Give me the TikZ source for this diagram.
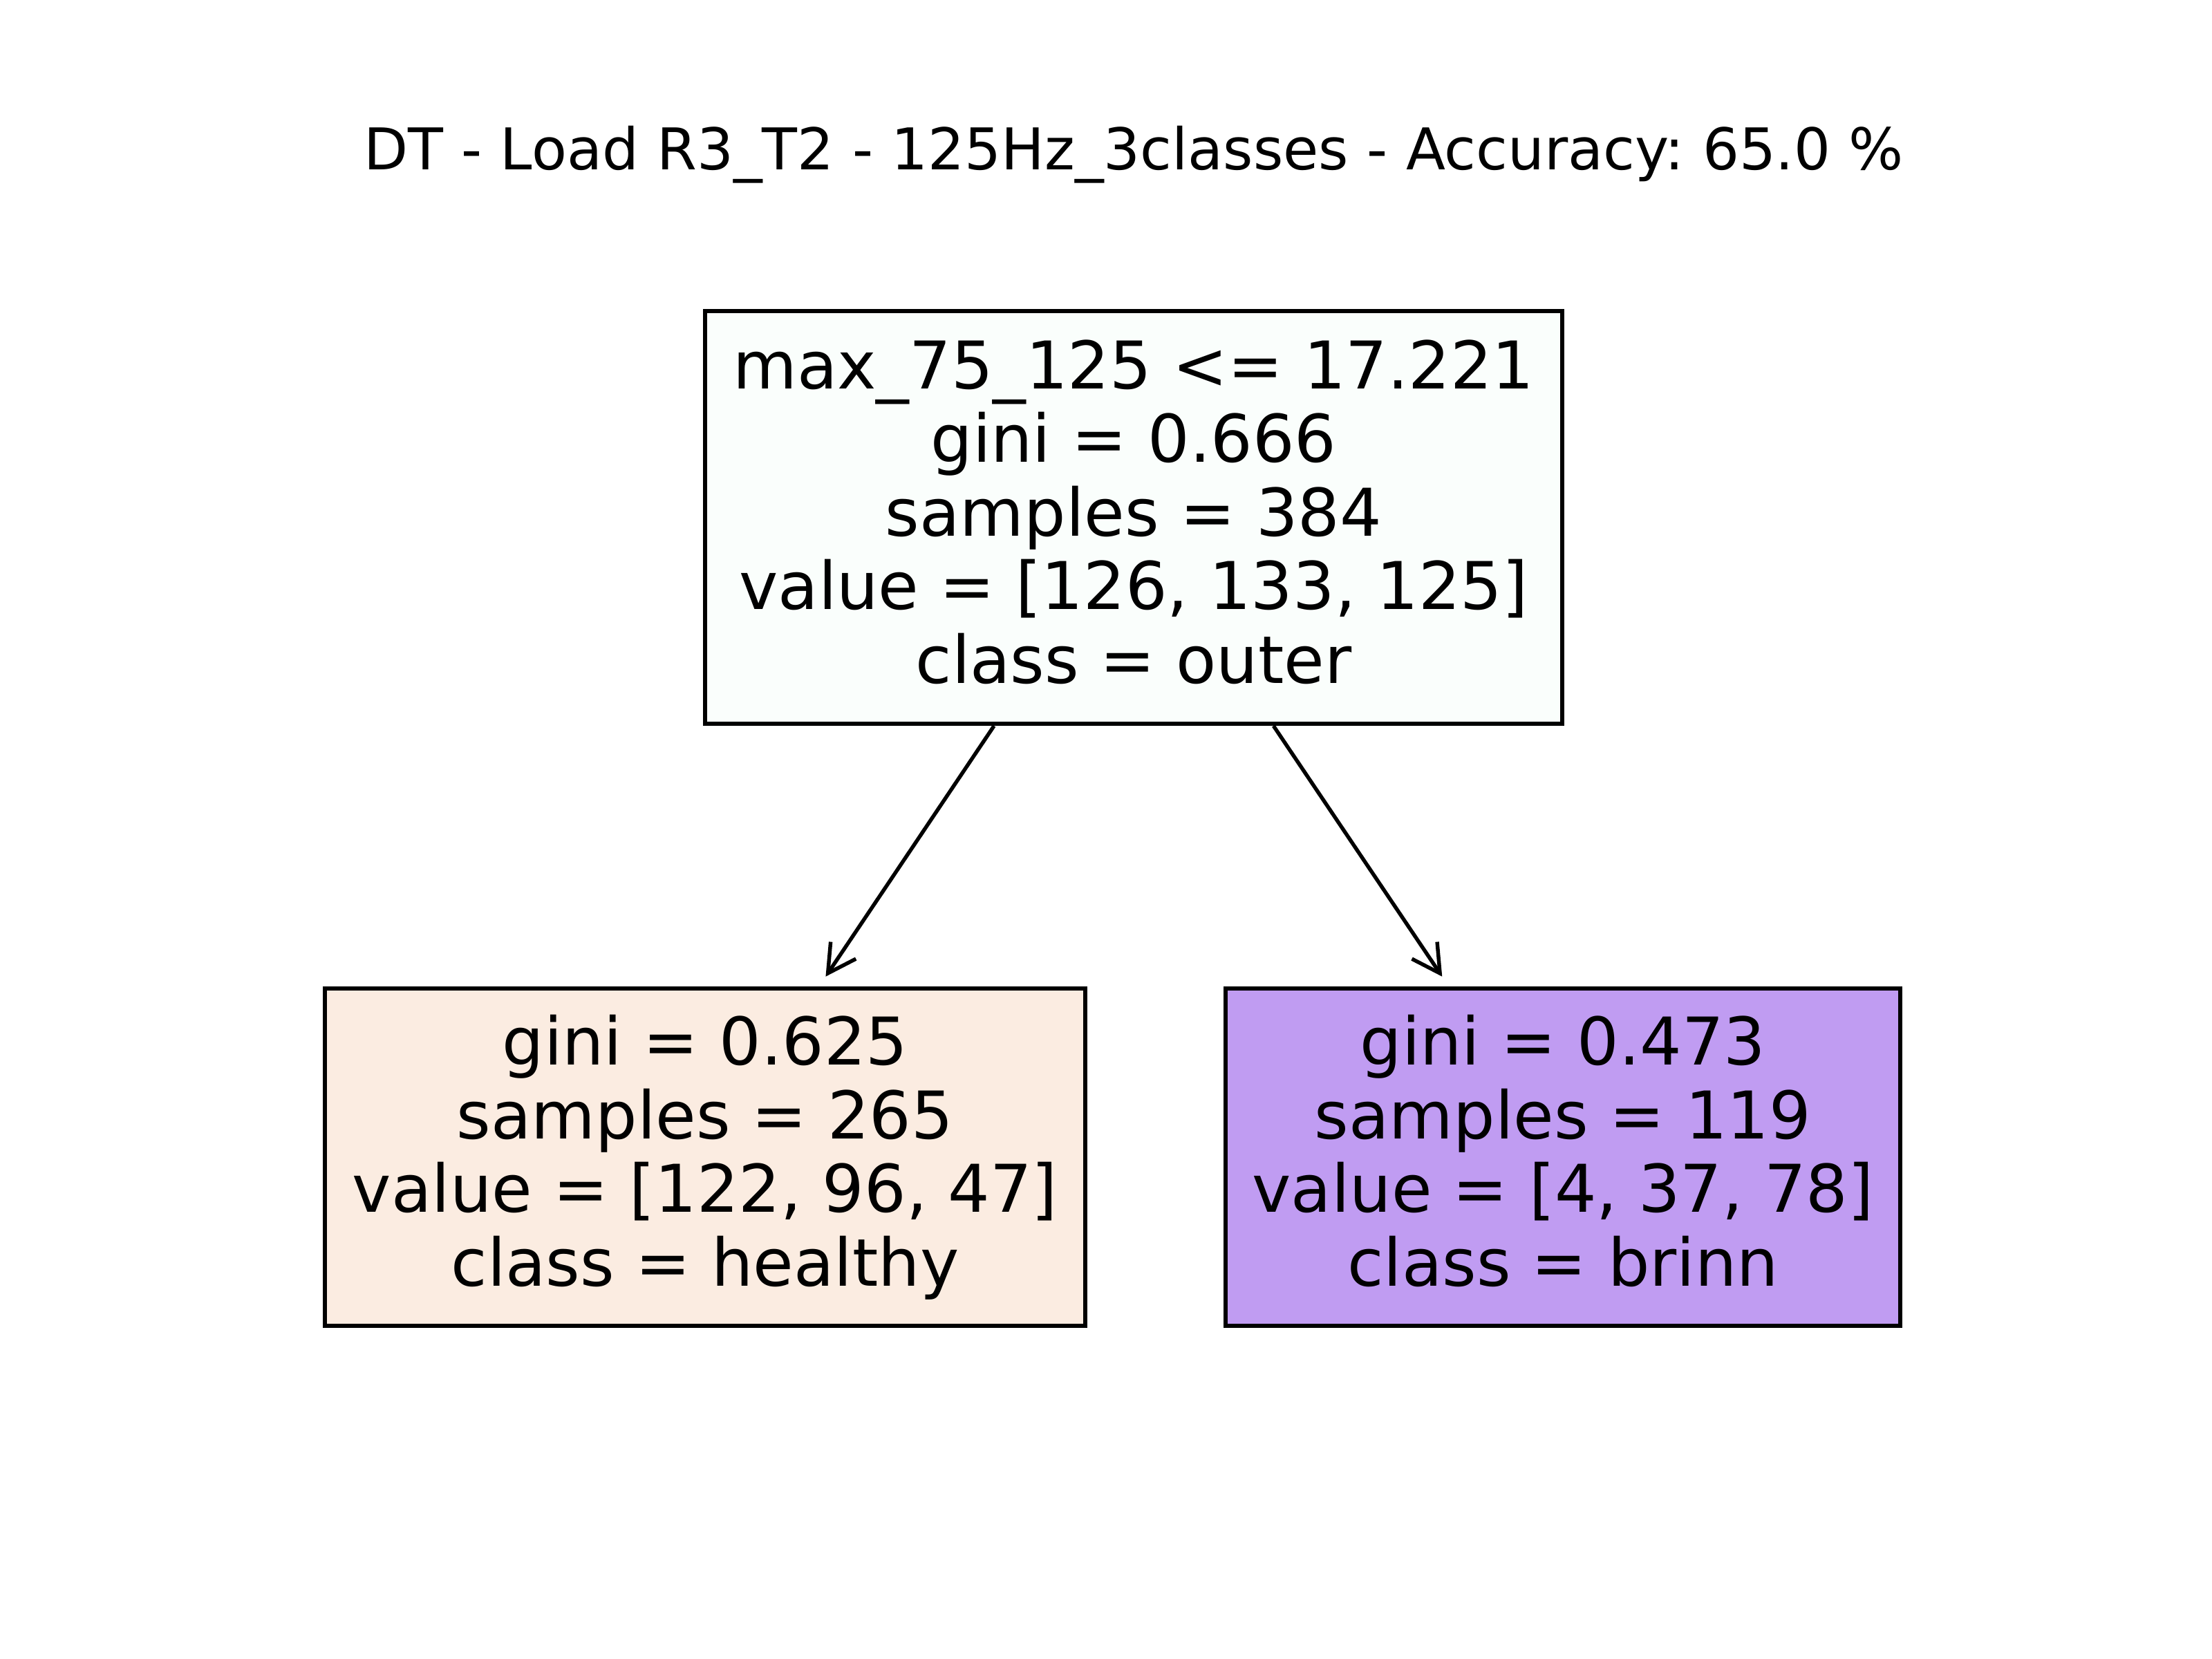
\documentclass[tikz,border=0pt]{standalone}
\usepackage{fontspec}
\setmainfont{DejaVu Sans}
\usetikzlibrary{arrows.meta}
\frenchspacing
\newcommand{\lnstrut}{\rule[-0.24em]{0pt}{1.04em}}
\definecolor{rootfill}{HTML}{FAFEFC}
\definecolor{leftfill}{HTML}{FBECE1}
\definecolor{rightfill}{HTML}{C09CF2}
\begin{document}
\begin{tikzpicture}[
  treebox/.style={draw=black, line width=1.8pt, inner sep=0pt, align=center,
    font=\fontsize{27.1}{30.3}\selectfont},
  edge/.style={line width=1.55pt, -{Straight Barb[length=0.40cm,width=0.44cm]},
    shorten >=0.17cm},
  titletext/.style={anchor=base, font=\fontsize{23.7}{28}\selectfont}
]
\useasboundingbox (0,0) rectangle (32,-24);
\node[titletext] (title) at (16.40,-2.46) {DT - Load R3\_T2 - 125Hz\_3classes - Accuracy: 65.0 \%};

\node[treebox, fill=rootfill, minimum width=12.40cm, minimum height=5.97cm] (root) at (16.40,-7.485)
  {\lnstrut max\_75\_125 <= 17.221\\ \lnstrut gini = 0.666\\ \lnstrut samples = 384\\ \lnstrut value = [126, 133, 125]\\ \lnstrut class = outer};

\node[treebox, fill=leftfill, minimum width=11.00cm, minimum height=4.88cm] (left) at (10.20,-16.74)
  {\lnstrut gini = 0.625\\ \lnstrut samples = 265\\ \lnstrut value = [122, 96, 47]\\ \lnstrut class = healthy};

\node[treebox, fill=rightfill, minimum width=9.76cm, minimum height=4.88cm] (right) at (22.61,-16.74)
  {\lnstrut gini = 0.473\\ \lnstrut samples = 119\\ \lnstrut value = [4, 37, 78]\\ \lnstrut class = brinn};

\draw[edge] (root) -- (left);
\draw[edge] (root) -- (right);
\end{tikzpicture}
\end{document}
